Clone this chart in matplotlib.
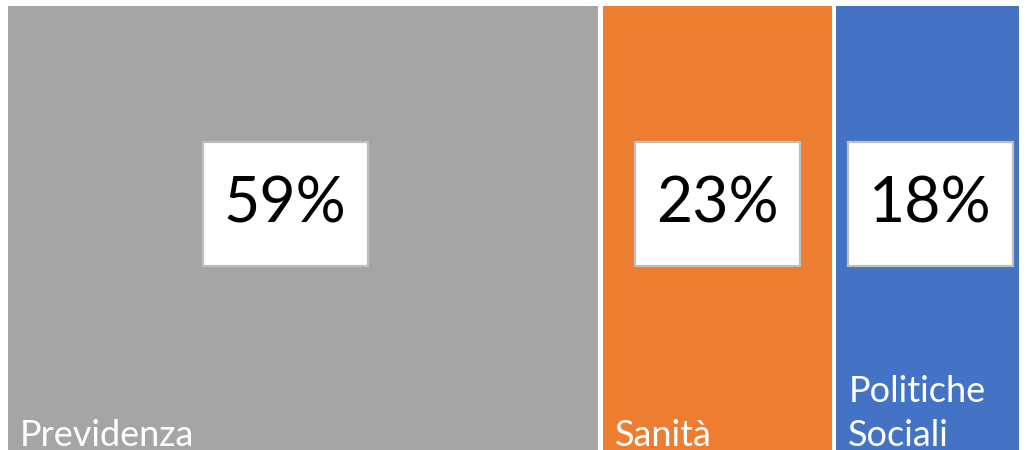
import matplotlib
matplotlib.use("Agg")
import matplotlib.pyplot as plt
from matplotlib.patches import Rectangle
from matplotlib.transforms import ScaledTranslation

categories = ["Previdenza", "Sanità", "Politiche\nSociali"]
values = [58.6, 23.1, 18.3]
colors = ["#A5A5A5", "#ED7D31", "#4472C4"]

W, H, DPI = 1034, 450, 100
fig = plt.figure(figsize=(W / DPI, H / DPI), dpi=DPI)
fig.patch.set_facecolor("white")
ax = fig.add_axes([8 / W, 0, 1011 / W, 444 / H])
total = sum(values)
ax.set_xlim(0, total)
ax.set_ylim(0, 1)
ax.axis("off")

gap = 0.45
font = ["Lato", "DejaVu Sans"]
box_w, box_h = 1.65, 1.24  # inches
label_shift = [-0.18, 0.0, 0.03]  # inches, horizontal nudge of the value boxes
cum = 0
for i, (cat, v, c) in enumerate(zip(categories, values, colors)):
    x0 = cum + (gap / 2 if i > 0 else 0)
    x1 = cum + v - (gap / 2 if i < len(values) - 1 else 0)
    ax.add_patch(Rectangle((x0, 0), x1 - x0, 1.2, facecolor=c, edgecolor="none"))
    cx = (x0 + x1) / 2
    cy = 0.554
    tr = fig.dpi_scale_trans + ScaledTranslation(cx, cy, ax.transData)
    dx = label_shift[i]
    ax.add_patch(Rectangle((dx - box_w / 2, -box_h / 2), box_w, box_h, transform=tr,
                           facecolor="white", edgecolor="#BFBFBF", linewidth=1.6, zorder=3))
    pct = f"{round(v / total * 100):d}%"
    ax.text(dx, 0, pct, transform=tr, ha="center", va="center", fontsize=45, family=font,
            color="black", zorder=4)
    ax.annotate(cat, xy=(x0, 0), xycoords="data", xytext=(12, -2), textcoords="offset pixels",
                ha="left", va="bottom", fontsize=26, family=font, color="white",
                linespacing=1.42, annotation_clip=False)
    cum += v

fig.savefig("out.png", dpi=DPI, facecolor="white")
